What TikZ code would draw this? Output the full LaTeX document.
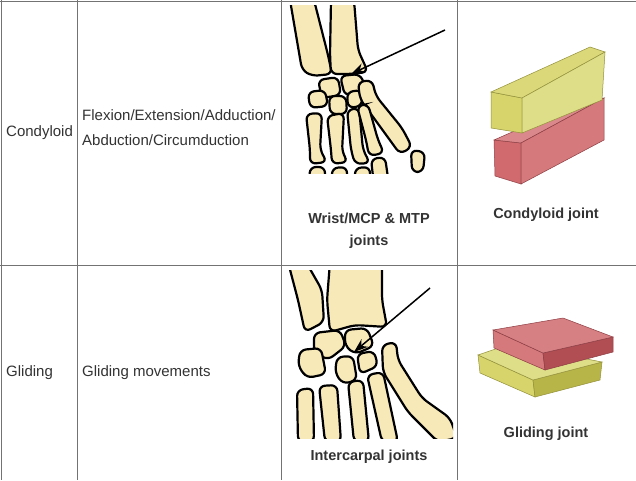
\documentclass[tikz,border=0pt]{standalone}
\usepackage{fontspec}
\setmainfont{Liberation Sans}
\usetikzlibrary{arrows.meta}
\begin{document}
\begin{tikzpicture}[x=1pt,y=-1pt,
  grid/.style={draw=black!55,line width=1pt},
  cell/.style={font=\fontsize{15}{25}\selectfont,text=black!80,anchor=west,align=left,inner sep=0},
  captxt/.style={font=\bfseries\fontsize{14.5}{22}\selectfont,text=black!80,align=center,inner sep=0},
  bone/.style={fill=bonec,draw=black,line width=2.2pt,rounded corners=6pt},
  arr/.style={draw=black,line width=1.5pt,-{Stealth[length=14pt,width=10pt]}}]
\definecolor{bonec}{HTML}{F8E9B8}
\definecolor{yel}{HTML}{D6D46A}
\definecolor{yeld}{HTML}{B8B548}
\definecolor{reda}{HTML}{D06A6E}
\definecolor{redd}{HTML}{B04E54}
\useasboundingbox (0,0) rectangle (636,480);
\fill[white] (0,0) rectangle (636,480);
% grid
\draw[grid] (0,1) -- (636,1) (0,265) -- (636,265);
\draw[grid] (1,0) -- (1,480) (77,0) -- (77,480) (281,0) -- (281,480) (457,0) -- (457,480);
% texts
\node[cell] (t1) at (6,133) {Condyloid};
\node[cell] (t2) at (82,128) {Flexion/Extension/Adduction/\\Abduction/Circumduction};
\node[cell] (t3) at (6,373) {Gliding};
\node[cell] (t4) at (82,373) {Gliding movements};
\node[captxt] (c1) at (369,231) {Wrist/MCP \& MTP\\joints};
\node[captxt] (c2) at (546,215) {Condyloid joint};
\node[captxt] (c3) at (369,457) {Intercarpal joints};
\node[captxt] (c4) at (546,434) {Gliding joint};
% hand 1
\begin{scope}
\clip (288,5) rectangle (450,173);
\draw[bone] (290,0) -- (314,0) -- (328,55) -- (332,74) -- (312,76) -- (302,70) -- cycle;
\draw[bone] (331,0) -- (354,0) -- (358,50) -- (368,72) -- (350,74) -- (331,74) -- (330,55) -- cycle;
\draw[bone] (318,80) -- (338,77) -- (341,95) -- (322,98) -- cycle;
\draw[bone] (340,76) -- (360,74) -- (366,88) -- (345,96) -- cycle;
\draw[bone] (308,92) -- (325,90) -- (328,106) -- (310,108) -- cycle;
\draw[bone] (329,96) -- (346,96) -- (347,114) -- (330,114) -- cycle;
\draw[bone] (347,92) -- (362,90) -- (362,106) -- (348,108) -- cycle;
\draw[bone] (358,82) -- (372,80) -- (376,96) -- (402,128) -- (412,147) -- (400,154) -- (384,132) -- (360,99) -- cycle;
\draw[bone] (411,150) -- (425,152) -- (423,172) -- (412,172) -- cycle;
\draw[bone] (306,114) -- (322,113) -- (320,150) -- (327,162) -- (310,164) -- (310,150) -- cycle;
\draw[bone] (327,116) -- (344,113) -- (342,152) -- (348,162) -- (332,164) -- (331,150) -- cycle;
\draw[bone] (347,110) -- (359,108) -- (363,150) -- (370,163) -- (355,164) -- (351,150) -- cycle;
\draw[bone] (357,106) -- (368,104) -- (378,140) -- (384,153) -- (369,156) -- (366,140) -- cycle;
\draw[bone] (310,167) -- (325,167) -- (325,185) -- (309,185) -- cycle;
\draw[bone] (332,168) -- (347,167) -- (347,185) -- (332,185) -- cycle;
\draw[bone] (355,168) -- (370,167) -- (370,185) -- (355,185) -- cycle;
\draw[bone] (371,159) -- (385,157) -- (389,185) -- (374,185) -- cycle;
\end{scope}
\coordinate (a1) at (445,30);
\coordinate (a1e) at (351,74);
\draw[arr] (a1) -- (a1e);
% hand 2
\begin{scope}
\clip (288,270) rectangle (453,438);
\draw[bone] (288,262) -- (306,262) -- (322,290) -- (324,322) -- (305,332) -- (298,300) -- cycle;
\draw[bone] (330,262) -- (382,262) -- (382,300) -- (387,327) -- (355,325) -- (330,332) -- (327,300) -- cycle;
\draw[bone] (314,333) -- (340,330) -- (346,346) -- (328,360) -- (314,352) -- cycle;
\draw[bone] (345,330) -- (367,328) -- (374,346) -- (355,354) -- (345,346) -- cycle;
\draw[bone] (300,350) -- (321,348) -- (326,374) -- (307,378) -- (298,366) -- cycle;
\draw[bone] (337,357) -- (353,356) -- (357,380) -- (343,384) -- (335,373) -- cycle;
\draw[bone] (357,354) -- (374,351) -- (378,366) -- (360,374) -- cycle;
\draw[bone] (382,345) -- (396,342) -- (398,360) -- (422,398) -- (450,418) -- (457,438) -- (438,442) -- (408,412) -- (383,372) -- cycle;
\draw[bone] (297,390) -- (313,388) -- (314,442) -- (298,442) -- cycle;
\draw[bone] (319,386) -- (337,385) -- (341,442) -- (325,442) -- cycle;
\draw[bone] (348,382) -- (363,380) -- (369,442) -- (354,442) -- cycle;
\draw[bone] (367,375) -- (383,372) -- (398,442) -- (382,442) -- cycle;
\end{scope}
\coordinate (a2) at (430,288);
\coordinate (a2e) at (354,352);
\draw[arr] (a2) -- (a2e);
% condyloid blocks
\fill[reda,draw=redd!80!black,line width=.5pt] (494,140) -- (521,143) -- (521,184) -- (495,176) -- cycle;
\fill[reda!80!white,draw=redd!80!black,line width=.5pt] (494,140) -- (585,100) -- (604,98) -- (521,143) -- cycle;
\fill[reda!90!white,draw=redd!80!black,line width=.5pt] (521,143) -- (604,98) -- (604,140) -- (521,184) -- cycle;
\fill[yel,draw=yeld!80!black,line width=.5pt] (491,92) -- (522,98) -- (522,133) -- (491,128) -- cycle;
\fill[yel!90!white,draw=yeld!80!black,line width=.5pt] (491,92) -- (590,47) -- (605,52) -- (522,98) -- cycle;
\fill[yel!80!white,draw=yeld!80!black,line width=.5pt] (522,98) -- (605,52) -- (602,100) -- (522,133) -- cycle;
% gliding blocks
\fill[yel,draw=yeld!80!black,line width=.5pt] (478,355) -- (533,380) -- (535,397) -- (480,373) -- cycle;
\fill[yeld,draw=yeld!80!black,line width=.5pt] (533,380) -- (602,362) -- (600,380) -- (535,397) -- cycle;
\fill[yel!80!white,draw=yeld!80!black,line width=.5pt] (478,355) -- (510,344) -- (602,362) -- (533,380) -- cycle;
\fill[reda!90!white,draw=redd!80!black,line width=.5pt] (493,330) -- (543,353) -- (545,370) -- (494,348) -- cycle;
\fill[redd,draw=redd!80!black,line width=.5pt] (543,353) -- (613,337) -- (613,352) -- (545,370) -- cycle;
\fill[reda!85!white,draw=redd!80!black,line width=.5pt] (493,330) -- (563,318) -- (613,337) -- (543,353) -- cycle;
\end{tikzpicture}
\end{document}
